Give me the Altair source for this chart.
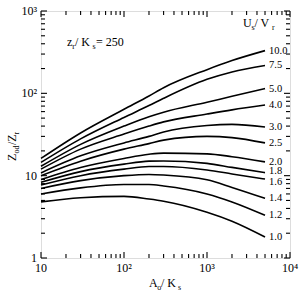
import altair as alt
import pandas as pd

# ---- data ----
ratios = ["10.0", "7.5", "5.0", "4.0", "3.0", "2.5", "2.0", "1.8", "1.6", "1.4", "1.2", "1.0"]
a_over_k = [10, 30, 100, 200, 300, 1000, 2000, 5000]
z_10_0 = [16.2, 33, 64, 93, 117, 194, 250, 330]
z_7_5 = [14.5, 28, 51, 71, 87, 148, 182, 218]
z_5_0 = [13, 24, 40, 52, 59, 78, 92, 114]
z_4_0 = [12, 21, 32, 40, 45, 56, 63, 72]
z_3_0 = [10.8, 17.4, 25, 30, 34, 40.7, 42, 39]
z_2_5 = [10, 15, 21, 24.5, 27, 30, 29, 25]
z_2_0 = [9, 12.6, 16.2, 18.2, 18.8, 18.4, 17, 14.7]
z_1_8 = [8.3, 11.2, 13.8, 15, 15.1, 14.1, 12.6, 10.9]
z_1_6 = [7.7, 10, 12, 12.9, 12.9, 11.7, 10.5, 9.1]
z_1_4 = [7, 8.7, 10, 10.35, 10.2, 8.9, 7.2, 5.3]
z_1_2 = [6, 7.1, 7.8, 7.8, 7.5, 6, 4.8, 3.3]
z_1_0 = [4.8, 5.4, 5.6, 5.2, 4.9, 3.6, 2.8, 1.8]
series = [z_10_0, z_7_5, z_5_0, z_4_0, z_3_0, z_2_5, z_2_0, z_1_8, z_1_6, z_1_4, z_1_2, z_1_0]
# small vertical nudges of the end labels, as printed (1.8 and 1.6 are spread apart)
label_nudge = [0, 0, 0, 0, 0, 0, 0, -2, 3, 0, 0, 0]

x_major = [10, 100, 1000, 10000]
x_major_labels = ["10", "10\u00b2", "10\u00b3", "10\u2074"]
y_major = [1, 10, 100, 1000]
y_major_labels = ["1", "10", "10\u00b2", "10\u00b3"]
x_minor = [m * d for d in [10, 100, 1000] for m in range(2, 10)]
y_minor = [m * d for d in [1, 10, 100] for m in range(2, 10)]

W, H = 249, 247

rows = []
for lab, vals in zip(ratios, series):
    for xv, yv in zip(a_over_k, vals):
        rows.append({"A": xv, "Z": yv, "U": lab})
df = pd.DataFrame(rows)

FONT = "Liberation Serif"
xscale = alt.Scale(type="log", domain=[10, 10000], nice=False)
yscale = alt.Scale(type="log", domain=[1, 1000], nice=False)


def X(field):
    return alt.X(field, scale=xscale, axis=None)


def Y(field):
    return alt.Y(field, scale=yscale, axis=None)


lines = alt.Chart(df).mark_line(color="black", strokeWidth=1.6, interpolate="monotone").encode(
    x=X("A:Q"), y=Y("Z:Q"), detail="U:N",
)


def xticks(values, length, at_top):
    y0, y1 = (0, length) if at_top else (H, H - length)
    return alt.Chart(pd.DataFrame({"tx": values})).mark_rule(
        color="black", strokeWidth=1.1
    ).encode(x=X("tx:Q"), y=alt.value(y0), y2=alt.value(y1))


def yticks(values, length, at_right):
    x0, x1 = (W, W - length) if at_right else (0, length)
    return alt.Chart(pd.DataFrame({"ty": values})).mark_rule(
        color="black", strokeWidth=1.1
    ).encode(y=Y("ty:Q"), x=alt.value(x0), x2=alt.value(x1))


ticks = [xticks(x_minor, 4, False), xticks(x_major, 6, False),
         xticks(x_minor, 4, True), xticks(x_major, 6, True),
         yticks(y_minor, 4, False), yticks(y_major, 6, False),
         yticks(y_minor, 4, True), yticks(y_major, 6, True)]

x_labels = alt.Chart(pd.DataFrame({"lx": x_major, "t": x_major_labels})).mark_text(
    align="center", baseline="top", font=FONT, fontSize=12, color="black"
).encode(x=X("lx:Q"), y=alt.value(H + 5), text="t:N")

y_labels = alt.Chart(pd.DataFrame({"ly": y_major, "t": y_major_labels})).mark_text(
    align="right", baseline="middle", font=FONT, fontSize=12, color="black"
).encode(y=Y("ly:Q"), x=alt.value(-4), text="t:N")

end_layers = []
for lab, vals, nud in zip(ratios, series, label_nudge):
    end_layers.append(
        alt.Chart(pd.DataFrame({"A": [a_over_k[-1]], "Z": [vals[-1]], "U": [lab]}))
        .mark_text(align="left", baseline="middle", dx=4, dy=nud, font=FONT,
                   fontSize=10.5, color="black")
        .encode(x=X("A:Q"), y=Y("Z:Q"), text="U:N")
    )


def piece(text, x, y, size=12, angle=0):
    return alt.Chart(pd.DataFrame({"t": [text]})).mark_text(
        text=text, align="left", baseline="alphabetic", font=FONT, fontSize=size,
        color="black", angle=angle,
    ).encode(x=alt.value(x), y=alt.value(y))


annot = []
# z_r / K_s = 250
annot += [piece("z", 26, 35), piece("r", 31.2, 38, 8), piece(" / K", 34, 35),
          piece("s", 51.5, 38, 8), piece(" = 250", 55, 35)]
# U_s / V_r
annot += [piece("U", 202, 16), piece("s", 210.5, 19, 8), piece(" / V", 213.5, 16),
          piece("r", 231, 19, 8)]
# A_o / K_s (x title)
annot += [piece("A", 108, 276), piece("o", 116.2, 279, 8), piece(" / K", 120, 276),
          piece("s", 137, 279, 8)]
# Z_od / Z_r (y title, rotated)
annot += [piece("Z", -25, 150, 12, 270), piece("od", -22, 142.5, 8, 270),
          piece("/Z", -25, 134, 12, 270), piece("r", -22, 123.5, 8, 270)]

chart = alt.layer(lines, *ticks, x_labels, y_labels, *end_layers, *annot).properties(
    width=W, height=H,
    autosize=alt.AutoSizeParams(type="none"),
    padding={"left": 41, "top": 11, "right": 13, "bottom": 40},
).configure_view(stroke="black", strokeWidth=1.5).configure(font=FONT, background="white")

chart.save("out.html", embed_options={"renderer": "svg", "actions": False})
